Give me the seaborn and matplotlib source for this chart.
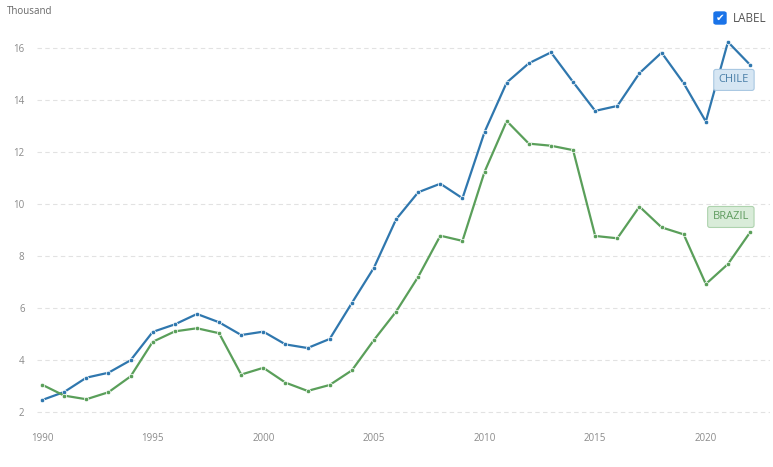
import numpy as np
import pandas as pd
import matplotlib
matplotlib.use("Agg")
import matplotlib.pyplot as plt
import seaborn as sns
from matplotlib.patches import FancyBboxPatch

years = list(range(1990, 2023))
chile = [2.46, 2.77, 3.32, 3.51, 3.99, 5.08, 5.37, 5.77, 5.45, 4.96, 5.09, 4.60, 4.46, 4.81,
         6.19, 7.55, 9.41, 10.45, 10.78, 10.22, 12.77, 14.67, 15.41, 15.83, 14.69, 13.58,
         13.77, 15.03, 15.82, 14.64, 13.17, 16.23, 15.35]
brazil = [3.05, 2.63, 2.49, 2.76, 3.37, 4.70, 5.10, 5.22, 5.03, 3.44, 3.70, 3.13, 2.81, 3.04,
          3.60, 4.77, 5.86, 7.20, 8.78, 8.58, 11.24, 13.19, 12.32, 12.24, 12.07, 8.77,
          8.68, 9.90, 9.10, 8.83, 6.92, 7.69, 8.91]
series_names = ["CHILE", "BRAZIL"]
x_ticks = [1990, 1995, 2000, 2005, 2010, 2015, 2020]
y_ticks = [2, 4, 6, 8, 10, 12, 14, 16]

df = pd.DataFrame({
    "year": years * 2,
    "value": chile + brazil,
    "country": [series_names[0]] * len(years) + [series_names[1]] * len(years),
})

sns.set_theme(style="white")
plt.rcParams['font.family'] = ['Open Sans', 'DejaVu Sans']

colors = {"CHILE": "#2f77ae", "BRAZIL": "#5a9f5a"}

fig = plt.figure(figsize=(7.73, 4.67), dpi=100)
ax = fig.add_axes([37/773, 1 - 425/467, (770 - 37)/773, (425 - 30)/467])

sns.lineplot(data=df, x="year", y="value", hue="country", palette=colors,
             linewidth=1.6, marker="o", markersize=3.2, markeredgecolor="white",
             markeredgewidth=0.5, legend=False, ax=ax)

ax.set_xlim(1989.77, 2022.9)
ax.set_ylim(1.5, 16.69)
ax.set_xticks(x_ticks)
ax.set_yticks(y_ticks)
ax.set_xlabel("")
ax.set_ylabel("")
for s in ax.spines.values():
    s.set_visible(False)
ax.grid(axis="y", color="#e2e2e2", linestyle=(0, (4, 3)), linewidth=0.8)
ax.tick_params(axis="x", length=3, color="#cccccc", labelsize=7, labelcolor="#8a8a8a", pad=3, width=0.8)
ax.tick_params(axis="y", length=0, labelsize=7, labelcolor="#8a8a8a", pad=9)

fig.text(7/773, 1 - 12/467, "Thousand", fontsize=7, color="#666666", va="center", ha="left")

# series labels
ax.text(2021.27, 14.77, "CHILE", fontsize=8, color="#4a7fa8", ha="center", va="center",
        bbox=dict(boxstyle="round,pad=0.45,rounding_size=0.2", fc="#d6e6f3", ec="#a9c8e2", lw=0.8))
ax.text(2021.13, 9.5, "BRAZIL", fontsize=8, color="#5f9c5f", ha="center", va="center",
        bbox=dict(boxstyle="round,pad=0.45,rounding_size=0.2", fc="#d9ecd9", ec="#aed3ae", lw=0.8))

# checkbox + LABEL
cb = FancyBboxPatch((714/773, 1 - 24/467), 12/773, 12/467,
                    boxstyle="round,pad=0,rounding_size=0.003",
                    transform=fig.transFigure, fc="#1a73e8", ec="#1a73e8")
fig.patches.append(cb)
fig.text(720/773, 1 - 18/467, "\u2714", fontsize=7.5, color="white", ha="center", va="center",
         family="DejaVu Sans")
fig.text(733/773, 1 - 18/467, "LABEL", fontsize=8.5, color="#555555", ha="left", va="center")

fig.savefig("out.png", dpi=100)
